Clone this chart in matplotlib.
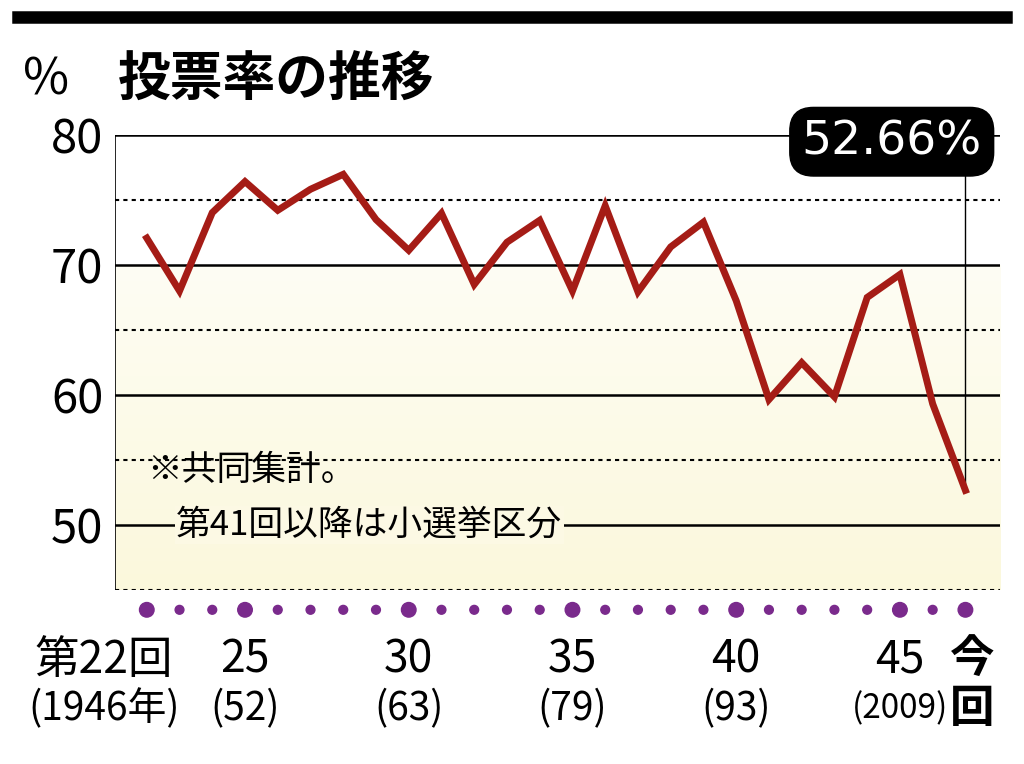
import numpy as np
import matplotlib.pyplot as plt

plt.rcParams['font.family'] = ['Noto Sans CJK JP', 'DejaVu Sans']

# 衆院選 投票率 (第22回〜今回)
kai = list(range(22, 48))
touhyou = [72.08, 68.01, 74.04, 76.43, 74.22, 75.84, 76.99, 73.51, 71.14, 73.99,
           68.51, 71.76, 73.45, 68.01, 74.57, 67.94, 71.40, 73.31, 67.26, 59.65,
           62.49, 59.86, 67.51, 69.28, 59.32, 52.66]
big_dots = [22, 25, 30, 35, 40, 45, 47]
tick_kai = [22, 25, 30, 35, 40, 45]
tick_top = ['第22回', '25', '30', '35', '40', '45']
tick_bot = ['(1946年)', '(52)', '(63)', '(79)', '(93)', '(2009)']

fig = plt.figure(figsize=(10.24, 7.64), dpi=100)
ax = fig.add_axes([0.112, 0.228, 0.865, 0.595])
ax.set_xlim(21.02, 48.07)
ax.set_ylim(45, 80)

# 背景 (70以下は薄い黄色)
grad = np.linspace(0, 1, 100).reshape(-1, 1)
ax.imshow(grad, extent=[21.02, 48.07, 45, 70], aspect='auto', origin='lower',
          cmap=plt.matplotlib.colors.LinearSegmentedColormap.from_list('y', ['#fbf8dc', '#fefdf4']),
          zorder=0)

for v in [80, 70, 60, 50]:
    ax.axhline(v, color='black', lw=1.8, zorder=1)
for v in [75, 65, 55, 45]:
    ax.axhline(v, color='black', lw=1.5, ls=(0, (2, 2)), zorder=1)

for s in ax.spines.values():
    s.set_visible(False)
ax.axvline(21.02, color='black', lw=1.2, ymax=1)
ax.set_xticks([])
ax.set_yticks([50, 60, 70, 80])
ax.tick_params(axis='y', length=0, labelsize=34, pad=8)
ax.set_yticklabels(['50', '60', '70', '80'])

ax.plot(kai, touhyou, color='#a51c16', lw=5, solid_joinstyle='miter', zorder=3)

# 注記
ax.text(22.0, 54.2, '※共同集計。', fontsize=25, va='center', zorder=4)
ax.text(22.9, 50.0, '第41回以降は小選挙区分', fontsize=25, va='center', zorder=4,
        bbox=dict(facecolor='#fcf9e4', edgecolor='none', pad=1))

# 最新値ラベル
ax.plot([47, 47], [touhyou[-1], 77], color='black', lw=1, zorder=2)
ax.text(44.75, 79.5, '52.66%', fontsize=34, color='white', ha='center', va='center', zorder=5,
        family='DejaVu Sans',
        bbox=dict(boxstyle='round,pad=0.25,rounding_size=0.5', facecolor='black', edgecolor='black'))

# 下のドット
sizes = [110 if k in big_dots else 40 for k in kai]
ax.scatter(kai, [43.46] * len(kai), s=sizes, color='#7a2a8c', clip_on=False, zorder=4)

for k, t, b in zip(tick_kai, tick_top, tick_bot):
    x = 20.7 if k == 22 else k
    ax.text(x, 39.6, t, fontsize=32, ha='center', va='center', clip_on=False)
    fs = 24 if k == 45 else 28
    ax.text(x, 35.8, b, fontsize=fs, ha='center', va='center', clip_on=False)
ax.text(47.2, 39.6, '今', fontsize=32, weight='bold', ha='center', va='center', clip_on=False)
ax.text(47.2, 35.8, '回', fontsize=32, weight='bold', ha='center', va='center', clip_on=False)

# タイトル
fig.add_artist(plt.Line2D([0.018, 0.982], [0.978, 0.978], color='black', lw=9))
fig.text(0.022, 0.895, '%', fontsize=36, va='center')
fig.text(0.115, 0.895, '投票率の推移', fontsize=38, weight='bold', va='center')

fig.savefig('out.png', dpi=100, facecolor='white')
